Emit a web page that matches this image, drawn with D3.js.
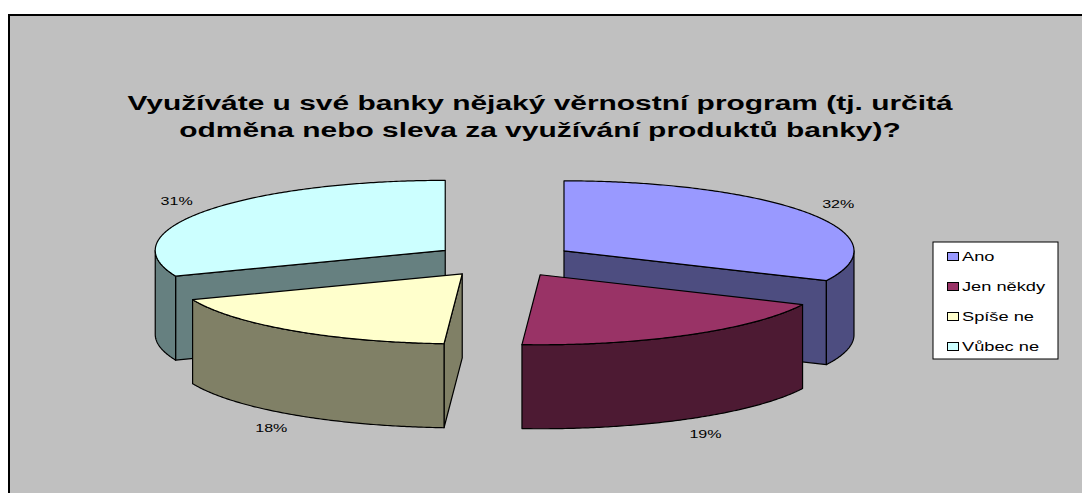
<!DOCTYPE html>
<html>
<head>
<meta charset="utf-8">
<script src="https://cdn.jsdelivr.net/npm/d3@7"></script>
<style>
  html, body { margin: 0; padding: 0; background: #ffffff; }
  svg { display: block; }
  text { font-family: "Liberation Sans", Arial, sans-serif; }
</style>
</head>
<body>
<svg id="chart" width="1082" height="493"></svg>
<script>
// Answer categories and their shares (%)
const categories = ["Ano", "Jen někdy", "Spíše ne", "Vůbec ne"];
const values = [32, 19, 18, 31];
const valueLabels = ["32%", "19%", "18%", "31%"];
const colors = ["#9999FF", "#993366", "#FFFFCC", "#CCFFFF"];
const titleLines = [
  "Využíváte u své banky nějaký věrnostní program (tj. určitá",
  "odměna nebo sleva za využívání produktů banky)?"
];

const W = 1082, H = 493;
const textStretch = 1.46;   // the sheet is drawn wide, so text is widened too
const svg = d3.select("#chart");

// chart area
svg.append("rect")
  .attr("x", 9).attr("y", 15)
  .attr("width", W + 20).attr("height", H + 20)
  .attr("fill", "#C0C0C0")
  .attr("stroke", "#000").attr("stroke-width", 2);

// title
svg.append("g").selectAll("text")
  .data(titleLines)
  .join("text")
  .attr("transform", (d, i) => `translate(540, ${110 + i * 27}) scale(${textStretch}, 1)`)
  .attr("text-anchor", "middle")
  .attr("font-weight", "bold")
  .attr("font-size", 20.5)
  .attr("fill", "#000")
  .text(d => d);

// 3D exploded pie geometry
const cx = 504, cy = 260;      // centre of the top face
const rx = 290, ry = 70;       // ellipse radii of the top face
const depth = 84;              // thickness of the pie
const explode = 0.245;         // slice offset as a fraction of the radius

const pie = d3.pie().sort(null).value(d => d)
  .startAngle(0).endAngle(2 * Math.PI);
const arcs = pie(values).map((a, i) => {
  const mid = (a.startAngle + a.endAngle) / 2;
  return {
    i,
    a0: a.startAngle,
    a1: a.endAngle,
    mid,
    ox: cx + explode * rx * Math.sin(mid),
    oy: cy - explode * ry * Math.cos(mid)
  };
});

const pt = (s, ang, dz) => [s.ox + rx * Math.sin(ang), s.oy - ry * Math.cos(ang) + dz];
const samples = (from, to) => {
  const n = Math.max(2, Math.ceil(Math.abs(to - from) / 0.01));
  return d3.range(n + 1).map(k => from + (to - from) * k / n);
};
const line = d3.line().curve(d3.curveLinearClosed);
const darker = c => {
  const r = d3.rgb(c);
  return d3.rgb(r.r * 0.5, r.g * 0.5, r.b * 0.5).formatHex();
};

// draw back slices first
const order = arcs.slice().sort((a, b) => a.oy - b.oy);
const gPie = svg.append("g")
  .attr("stroke", "#000").attr("stroke-width", 1.2).attr("stroke-linejoin", "round");

order.forEach(s => {
  const side = darker(colors[s.i]);
  const apexTop = [s.ox, s.oy];
  const apexBot = [s.ox, s.oy + depth];

  // radial face at the start angle
  if (Math.sin(s.a0) < -1e-6) {
    gPie.append("path")
      .attr("d", line([apexTop, pt(s, s.a0, 0), pt(s, s.a0, depth), apexBot]))
      .attr("fill", side);
  }
  // radial face at the end angle
  if (Math.sin(s.a1) > 1e-6) {
    gPie.append("path")
      .attr("d", line([apexTop, pt(s, s.a1, 0), pt(s, s.a1, depth), apexBot]))
      .attr("fill", side);
  }
  // outer wall, front half only
  const w0 = Math.max(s.a0, Math.PI / 2), w1 = Math.min(s.a1, 3 * Math.PI / 2);
  if (w1 > w0) {
    const angs = samples(w0, w1);
    const pts = angs.map(a => pt(s, a, 0))
      .concat(angs.slice().reverse().map(a => pt(s, a, depth)));
    gPie.append("path").attr("d", line(pts)).attr("fill", side);
  }
  // top face
  const top = [apexTop].concat(samples(s.a0, s.a1).map(a => pt(s, a, 0)));
  gPie.append("path").attr("d", line(top)).attr("fill", colors[s.i]);
});

// value labels
svg.append("g").selectAll("text")
  .data(arcs)
  .join("text")
  .attr("transform", s => {
    const x = s.ox + rx * 1.12 * Math.sin(s.mid);
    const y = s.oy - ry * 1.25 * Math.cos(s.mid) + (Math.cos(s.mid) < 0 ? depth : 0);
    return `translate(${x}, ${y}) scale(${textStretch}, 1)`;
  })
  .attr("text-anchor", "middle")
  .attr("dominant-baseline", "central")
  .attr("font-size", 11)
  .attr("fill", "#000")
  .text(s => valueLabels[s.i]);

// legend
const legend = svg.append("g");
legend.append("rect")
  .attr("x", 933).attr("y", 242).attr("width", 125).attr("height", 117)
  .attr("fill", "#fff").attr("stroke", "#000").attr("stroke-width", 1);
const items = legend.selectAll("g.item")
  .data(categories)
  .join("g")
  .attr("class", "item")
  .attr("transform", (d, i) => `translate(947, ${256 + i * 30})`);
items.append("rect")
  .attr("x", 0.5).attr("y", -3.5).attr("width", 11).attr("height", 8)
  .attr("fill", (d, i) => colors[i]).attr("stroke", "#000").attr("stroke-width", 1);
items.append("text")
  .attr("transform", `translate(15, 0.5) scale(${textStretch}, 1)`)
  .attr("dominant-baseline", "central")
  .attr("font-size", 12.5)
  .attr("fill", "#000")
  .text(d => d);
</script>
</body>
</html>
